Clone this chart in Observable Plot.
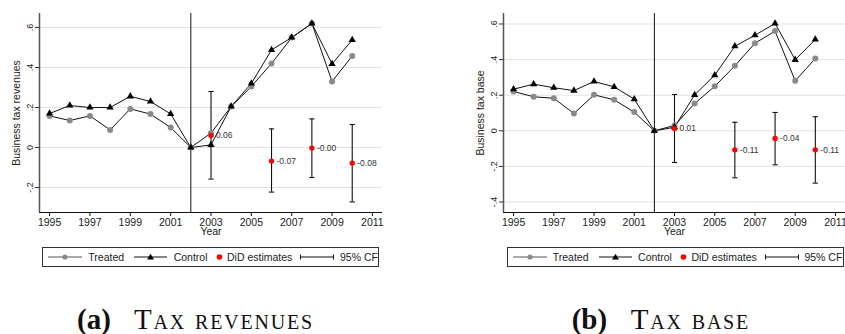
<!DOCTYPE html>
<html><head><meta charset="utf-8">
<script src="https://cdn.jsdelivr.net/npm/d3@7"></script>
<script src="https://cdn.jsdelivr.net/npm/@observablehq/plot@0.6"></script>
<style>
body{margin:0;background:#fff;}
#root{position:relative;width:845px;height:334px;overflow:hidden;font-family:"Liberation Sans",Arial,sans-serif;}
.panel{position:absolute;top:0;}
.legend{position:absolute;top:247px;height:20px;border:1px solid #333;box-sizing:border-box;font-size:10.5px;color:#222;background:#fff;}
.legend > *{position:absolute;top:50%;transform:translateY(-50%);white-space:nowrap;line-height:1;}
.caption{position:absolute;top:305px;font-family:"Liberation Serif",serif;font-size:29px;line-height:29px;white-space:nowrap;color:#111;}
.caption b{position:absolute;left:0;}
.caption span{position:absolute;font-variant:small-caps;letter-spacing:1.8px;}
</style></head><body><div id="root"></div>
<script>
// ---- data ----
const years = [1995,1996,1997,1998,1999,2000,2001,2002,2003,2004,2005,2006,2007,2008,2009,2010];
const xTicks = [1995,1997,1999,2001,2003,2005,2007,2009,2011];
const xDomain = [1994.5, 2011.5];
const treatYear = 2002;

// (a) Tax revenues
const revTreated = [0.158,0.135,0.158,0.088,0.193,0.167,0.100,0,0.072,0.205,0.305,0.420,0.550,0.620,0.330,0.458];
const revControl = [0.170,0.210,0.200,0.200,0.256,0.230,0.168,0,0.013,0.205,0.320,0.488,0.550,0.620,0.418,0.538];
const didYears = [2003,2006,2008,2010];
const revDid = [0.06,-0.068,-0.003,-0.078];
const revLo = [-0.158,-0.223,-0.150,-0.272];
const revHi = [0.280,0.093,0.143,0.115];
const revYTicks = [-0.2,0,0.2,0.4,0.6];
const revYDomain = [-0.325,0.67];

// (b) Tax base
const baseTreated = [0.221,0.191,0.183,0.097,0.202,0.174,0.105,0,0.030,0.153,0.250,0.365,0.492,0.560,0.281,0.406];
const baseControl = [0.234,0.262,0.242,0.226,0.277,0.247,0.178,0,0.020,0.202,0.312,0.475,0.537,0.603,0.399,0.513];
const baseDid = [0.013,-0.107,-0.043,-0.107];
const baseLo = [-0.178,-0.264,-0.191,-0.294];
const baseHi = [0.204,0.048,0.103,0.079];
const baseYTicks = [-0.4,-0.2,0,0.2,0.4,0.6];
const baseYDomain = [-0.459,0.659];

const legendLabels = ["Treated","Control","DiD estimates","95% CF"];

// ---- drawing ----
const fmtY = d => d === 0 ? "0" : d.toFixed(1).replace("0.", ".");
const cap = {draw(ctx, size){ const w = Math.sqrt(size/Math.PI); ctx.moveTo(-w,0); ctx.lineTo(w,0); }};

function panel({treated, control, did, lo, hi, yDomain, yTicks, yLabel, width, marginLeft, marginRight}) {
  const series = years.map((year,i)=>({year, t: treated[i], c: control[i]}));
  const est = didYears.map((year,i)=>({year, v: did[i], lo: lo[i], hi: hi[i]}));
  return Plot.plot({
    width, height: 240, marginLeft, marginRight, marginTop: 13, marginBottom: 28,
    style: {fontFamily: "'Liberation Sans', Arial, sans-serif", fontSize: "10.5px", color: "#222", background: "transparent", overflow: "visible"},
    x: {domain: xDomain},
    y: {domain: yDomain},
    marks: [
      Plot.gridY(yTicks, {stroke: "#e3e3e3", strokeOpacity: 1}),
      Plot.ruleX([treatYear], {stroke: "#111", strokeWidth: 1}),
      Plot.ruleX([xDomain[0]], {stroke: "#555", strokeWidth: 1.5}),
      Plot.ruleY([yDomain[0]], {stroke: "#111", strokeWidth: 1.2}),
      Plot.axisX({ticks: xTicks, tickFormat: d => String(d), tickSize: 4, tickPadding: 2.5, label: null, stroke: "#111"}),
      Plot.text(["Year"], {text: d => d, frameAnchor: "bottom", dy: 22.5, fontSize: 10.5}),
      Plot.axisY({ticks: yTicks, tickFormat: () => "", tickSize: 4, label: null, stroke: "#333"}),
      Plot.text(yTicks, {y: d => d, text: fmtY, frameAnchor: "left", dx: -7, rotate: -90, textAnchor: "middle", lineAnchor: "bottom", fontSize: 9}),
      Plot.text([yLabel], {text: d => d, frameAnchor: "left", dx: -23, rotate: -90, textAnchor: "middle", fontSize: 10.5}),
      Plot.ruleX(est, {x: "year", y1: "lo", y2: "hi", stroke: "#111", strokeWidth: 1.1}),
      Plot.dot(est, {x: "year", y: "lo", symbol: cap, r: 2.6, stroke: "#111", fill: "none", strokeWidth: 1.1}),
      Plot.dot(est, {x: "year", y: "hi", symbol: cap, r: 2.6, stroke: "#111", fill: "none", strokeWidth: 1.1}),
      Plot.line(series, {x: "year", y: "t", stroke: "#111", strokeWidth: 1}),
      Plot.line(series, {x: "year", y: "c", stroke: "#111", strokeWidth: 1}),
      Plot.dot(series, {x: "year", y: "t", r: 3, fill: "#8a8a8a"}),
      Plot.dot(series, {x: "year", y: "c", symbol: "triangle", r: 2.7, fill: "#000"}),
      Plot.dot(est, {x: "year", y: "v", r: 2.7, fill: "#ff0000"}),
      Plot.text(est, {x: "year", y: "v", text: d => d.v.toFixed(2), dx: 5, textAnchor: "start", fontSize: 8.5, fill: "#333"})
    ]
  });
}

function legend(left) {
  const box = document.createElement("div");
  box.className = "legend";
  box.style.left = left + "px";
  box.style.width = "337px";
  const ns = "http://www.w3.org/2000/svg";
  const sym = (x, w, inner) => {
    const s = document.createElementNS(ns, "svg");
    s.setAttribute("width", w); s.setAttribute("height", 10);
    s.style.position = "absolute"; s.style.left = x + "px";
    s.innerHTML = inner; return s;
  };
  const txt = (x, t) => { const e = document.createElement("div"); e.textContent = t; e.style.left = x + "px"; return e; };
  box.append(
    sym(5, 34, '<line x1="0" x2="34" y1="5" y2="5" stroke="#555"/><circle cx="17" cy="5" r="2.6" fill="#8a8a8a"/>'),
    txt(45, legendLabels[0]),
    sym(91, 33, '<line x1="0" x2="33" y1="5" y2="5" stroke="#111"/><path d="M16.5,1.8L20,7.6H13Z" fill="#000"/>'),
    txt(130.4, legendLabels[1]),
    sym(172.5, 7, '<circle cx="3.5" cy="5" r="2.8" fill="#ff0000"/>'),
    txt(183.7, legendLabels[2]),
    sym(257, 34, '<line x1="0.5" x2="33.5" y1="5" y2="5" stroke="#111"/><line x1="0.5" x2="0.5" y1="2.5" y2="7.5" stroke="#111"/><line x1="33.5" x2="33.5" y1="2.5" y2="7.5" stroke="#111"/>'),
    txt(296.7, legendLabels[3])
  );
  return box;
}

function caption(left, tag, title, titleLeft) {
  const c = document.createElement("div");
  c.className = "caption";
  c.style.left = left + "px";
  const b = document.createElement("b"); b.textContent = tag;
  const s = document.createElement("span"); s.textContent = title; s.style.left = titleLeft + "px";
  c.append(b, s);
  return c;
}

const root = document.getElementById("root");
const p1 = document.createElement("div"); p1.className = "panel"; p1.style.left = "0px";
p1.append(panel({treated: revTreated, control: revControl, did: revDid, lo: revLo, hi: revHi,
  yDomain: revYDomain, yTicks: revYTicks, yLabel: "Business tax revenues", width: 420, marginLeft: 39, marginRight: 38}));
const p2 = document.createElement("div"); p2.className = "panel"; p2.style.left = "420px";
p2.append(panel({treated: baseTreated, control: baseControl, did: baseDid, lo: baseLo, hi: baseHi,
  yDomain: baseYDomain, yTicks: baseYTicks, yLabel: "Business tax base", width: 425, marginLeft: 83, marginRight: 0}));
root.append(p1, p2, legend(42.3), legend(506.7),
  caption(77, "(a)", "Tax revenues", 57), caption(571.7, "(b)", "Tax base", 59));
</script>
</body></html>
